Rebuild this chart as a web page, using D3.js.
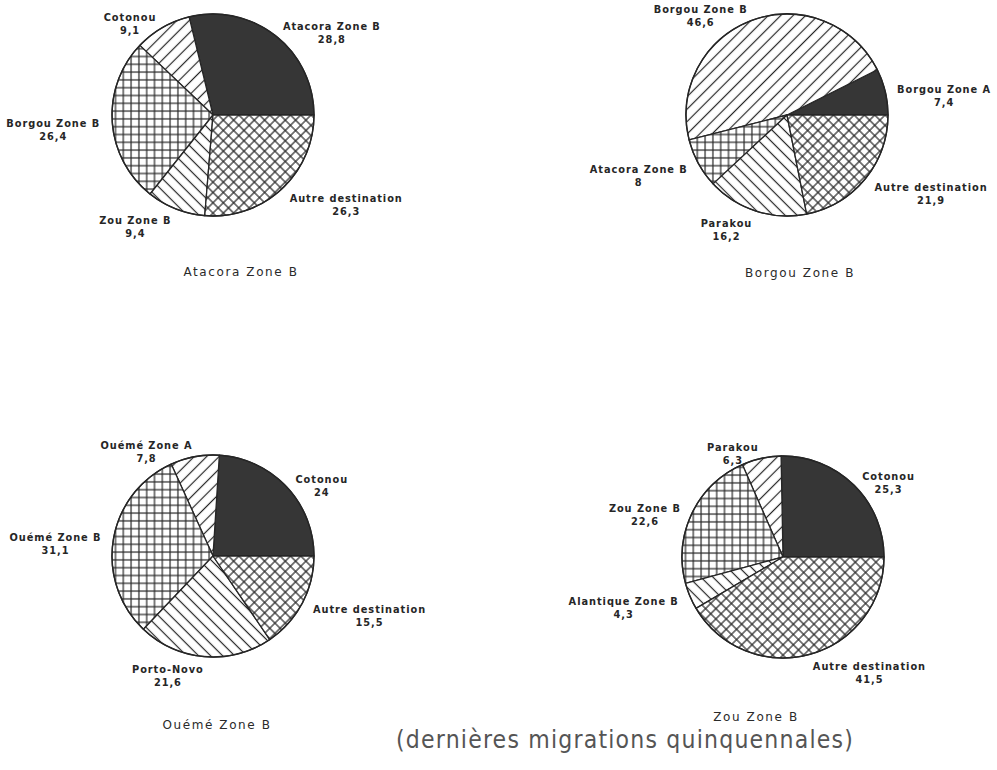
<!DOCTYPE html>
<html>
<head>
<meta charset="utf-8">
<script src="https://cdn.jsdelivr.net/npm/d3@7"></script>
<style>
  html, body { margin: 0; padding: 0; background: #ffffff; }
  svg { display: block; }
</style>
</head>
<body>
<svg id="chart" width="997" height="770"></svg>
<script>
// ---------- DATA ----------
const pieTitles = ["Atacora Zone B", "Borgou Zone B", "Ouémé Zone B", "Zou Zone B"];

const atacoraLabels = ["Atacora Zone B", "Cotonou", "Borgou Zone B", "Zou Zone B", "Autre destination"];
const atacoraValues = [28.8, 9.1, 26.4, 9.4, 26.3];

const borgouLabels = ["Borgou Zone A", "Borgou Zone B", "Atacora Zone B", "Parakou", "Autre destination"];
const borgouValues = [7.4, 46.6, 8, 16.2, 21.9];

const ouemeLabels = ["Cotonou", "Ouémé Zone A", "Ouémé Zone B", "Porto-Novo", "Autre destination"];
const ouemeValues = [24, 7.8, 31.1, 21.6, 15.5];

const zouLabels = ["Cotonou", "Parakou", "Zou Zone B", "Alantique Zone B", "Autre destination"];
const zouValues = [25.3, 6.3, 22.6, 4.3, 41.5];

const sliceFills = ["dark", "fwd", "grid", "back", "cross"];
const caption = "(dernières migrations quinquennales)";

// ---------- LAYOUT ----------
const W = 997, H = 770;
const R = 101;
const layout = [
  { cx: 213, cy: 115, tdx: 28, tdy: 157 },
  { cx: 787, cy: 115, tdx: 13, tdy: 158 },
  { cx: 213, cy: 556, tdx: 4,  tdy: 169 },
  { cx: 783, cy: 557, tdx: -27, tdy: 160 }
];
const datasets = [
  { labels: atacoraLabels, values: atacoraValues },
  { labels: borgouLabels, values: borgouValues },
  { labels: ouemeLabels, values: ouemeValues },
  { labels: zouLabels, values: zouValues }
];

const ink = "#262626";
const svg = d3.select("#chart");
svg.append("rect").attr("width", W).attr("height", H).attr("fill", "#ffffff");

// ---------- PATTERNS ----------
const defs = svg.append("defs");
function hatch(id, size, rot, lines) {
  const p = defs.append("pattern")
    .attr("id", id)
    .attr("patternUnits", "userSpaceOnUse")
    .attr("width", size).attr("height", size)
    .attr("patternTransform", `rotate(${rot})`);
  p.append("rect").attr("width", size).attr("height", size).attr("fill", "#ffffff");
  lines.forEach(l => {
    p.append("line")
      .attr("x1", l[0] * size).attr("y1", l[1] * size)
      .attr("x2", l[2] * size).attr("y2", l[3] * size)
      .attr("stroke", ink).attr("stroke-width", 1.2);
  });
}
hatch("fwd", 8.8, -45, [[0, 0.5, 1, 0.5]]);
hatch("back", 8.5, 45, [[0, 0.5, 1, 0.5]]);
hatch("grid", 7.8, 0, [[0, 0.5, 1, 0.5], [0.5, 0, 0.5, 1]]);
hatch("cross", 7.3, 45, [[0, 0.5, 1, 0.5], [0.5, 0, 0.5, 1]]);

const fillFor = k => k === "dark" ? "#363636" : `url(#${k})`;
const fmt = v => String(v).replace(".", ",");

// ---------- PIES ----------
const pieGen = d3.pie().sort(null).value(d => d)
  .startAngle(Math.PI / 2).endAngle(Math.PI / 2 - 2 * Math.PI);
const arcGen = d3.arc().innerRadius(0).outerRadius(R);

const labelFont = "'DejaVu Sans', 'Liberation Sans', sans-serif";

datasets.forEach((ds, i) => {
  const L = layout[i];
  const g = svg.append("g").attr("transform", `translate(${L.cx},${L.cy})`);
  const arcs = pieGen(ds.values);

  g.selectAll("path.slice").data(arcs).enter().append("path")
    .attr("class", "slice")
    .attr("d", arcGen)
    .attr("fill", (d, j) => fillFor(sliceFills[j]))
    .attr("stroke", ink).attr("stroke-width", 1.3)
    .attr("stroke-linejoin", "round");

  g.append("circle").attr("r", R).attr("fill", "none")
    .attr("stroke", ink).attr("stroke-width", 1.4);

  arcs.forEach((a, j) => {
    const mid = (a.startAngle + a.endAngle) / 2;
    const lr = R * 1.12;
    const px = Math.sin(mid) * lr;
    const py = -Math.cos(mid) * lr;
    const right = px >= 0;
    const lg = g.append("g");
    const t1 = lg.append("text")
      .attr("x", px).attr("y", py + 4)
      .attr("text-anchor", right ? "start" : "end")
      .attr("font-family", labelFont)
      .attr("font-weight", "bold")
      .attr("font-size", 9.8)
      .attr("letter-spacing", 0.95)
      .attr("fill", ink)
      .text(ds.labels[j]);
    const w = t1.node().getComputedTextLength();
    const cxText = right ? px + w / 2 : px - w / 2;
    lg.append("text")
      .attr("x", cxText).attr("y", py + 17)
      .attr("text-anchor", "middle")
      .attr("font-family", labelFont)
      .attr("font-weight", "bold")
      .attr("font-size", 9.8)
      .attr("letter-spacing", 0.95)
      .attr("fill", ink)
      .text(fmt(ds.values[j]));
  });

  svg.append("text")
    .attr("x", L.cx + L.tdx).attr("y", L.cy + L.tdy + 4)
    .attr("text-anchor", "middle")
    .attr("font-family", labelFont)
    .attr("font-size", 12)
    .attr("letter-spacing", 1.6)
    .attr("fill", "#2a2a2a")
    .text(pieTitles[i]);
});

// ---------- CAPTION ----------
svg.append("text")
  .attr("x", 625).attr("y", 748)
  .attr("text-anchor", "middle")
  .attr("font-family", "'DejaVu Sans Condensed', 'Liberation Sans Narrow', sans-serif")
  .attr("font-weight", 200)
  .attr("font-size", 24.5)
  .attr("letter-spacing", 1.2)
  .attr("fill", "#555555")
  .text(caption);
</script>
</body>
</html>
